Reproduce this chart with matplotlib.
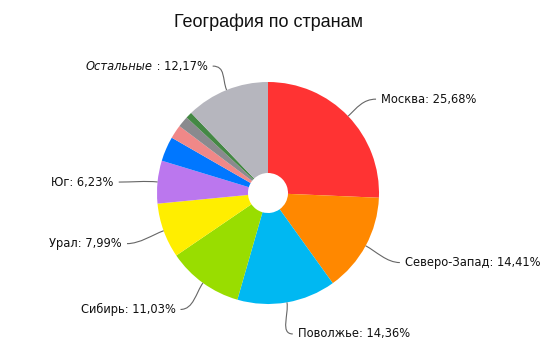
import numpy as np
import matplotlib
matplotlib.use("Agg")
import matplotlib.pyplot as plt
from matplotlib.path import Path
from matplotlib.patches import PathPatch

labels = ["Москва", "Северо-Запад", "Поволжье", "Сибирь", "Урал", "Юг",
          "", "", "", "", "Остальные"]
values = [25.68, 14.41, 14.36, 11.03, 7.99, 6.23, 3.6, 2.0, 1.6, 0.93, 12.17]
colors = ["#FF3333", "#FF8800", "#00B8F2", "#99DD00", "#FFEE00", "#BB77EE",
          "#0077FF", "#F08888", "#8A8A8E", "#448844", "#B6B6BE"]
italic = [False] * 10 + [True]

W, H = 551, 347
fig = plt.figure(figsize=(W / 100, H / 100), dpi=100)
ax = fig.add_axes([0, 0, 1, 1])

cx, cy, R, hole = 268, 154, 111, 20
wedges, _ = ax.pie(values, colors=colors, startangle=90, counterclock=False,
                   center=(cx, cy), radius=R, frame=True,
                   wedgeprops=dict(width=R - hole, linewidth=0))
ax.set_xlim(0, W)
ax.set_ylim(0, H)
ax.set_aspect("equal")
ax.axis("off")

fig.text(268 / W, 1 - 22 / H, "География по странам", ha="center", va="center",
         fontsize=13, family="Liberation Sans", color="#111111")

fs = 8.3
tc = "#111111"
for w, lab, val, it in zip(wedges, labels, values, italic):
    if not lab:
        continue
    ang = np.deg2rad((w.theta1 + w.theta2) / 2)
    c, s = np.cos(ang), np.sin(ang)
    ex, ey = cx + R * c, cy + R * s
    lx, ly = cx + 151 * c, cy + 140 * s - 3
    side = 1 if c >= 0 else -1
    ha = "left" if side > 0 else "right"
    p0 = (ex, ey)
    p1 = (ex + 12 * c, ey + 12 * s)
    p2 = (lx - side * 14, ly)
    p3 = (lx - side * 1, ly)
    path = Path([p0, p1, p2, p3], [Path.MOVETO, Path.CURVE4, Path.CURVE4, Path.CURVE4])
    ax.add_patch(PathPatch(path, fill=False, edgecolor="#666666", lw=0.8))
    valtxt = f"{val:.2f}".replace(".", ",") + "%"
    tx = lx + side * 4
    if it:
        vt = ax.text(tx, ly, " : " + valtxt, ha="right", va="center",
                     fontsize=fs, family="DejaVu Sans", color=tc)
        fig.canvas.draw()
        bb = vt.get_window_extent().transformed(ax.transData.inverted())
        ax.text(bb.x0, ly, lab, ha="right", va="center", fontsize=fs,
                fontstyle="italic", family="DejaVu Sans", color=tc)
    else:
        ax.text(tx, ly, f"{lab}: {valtxt}", ha=ha, va="center",
                fontsize=fs, family="DejaVu Sans", color=tc)

fig.savefig("out.png", dpi=100)
